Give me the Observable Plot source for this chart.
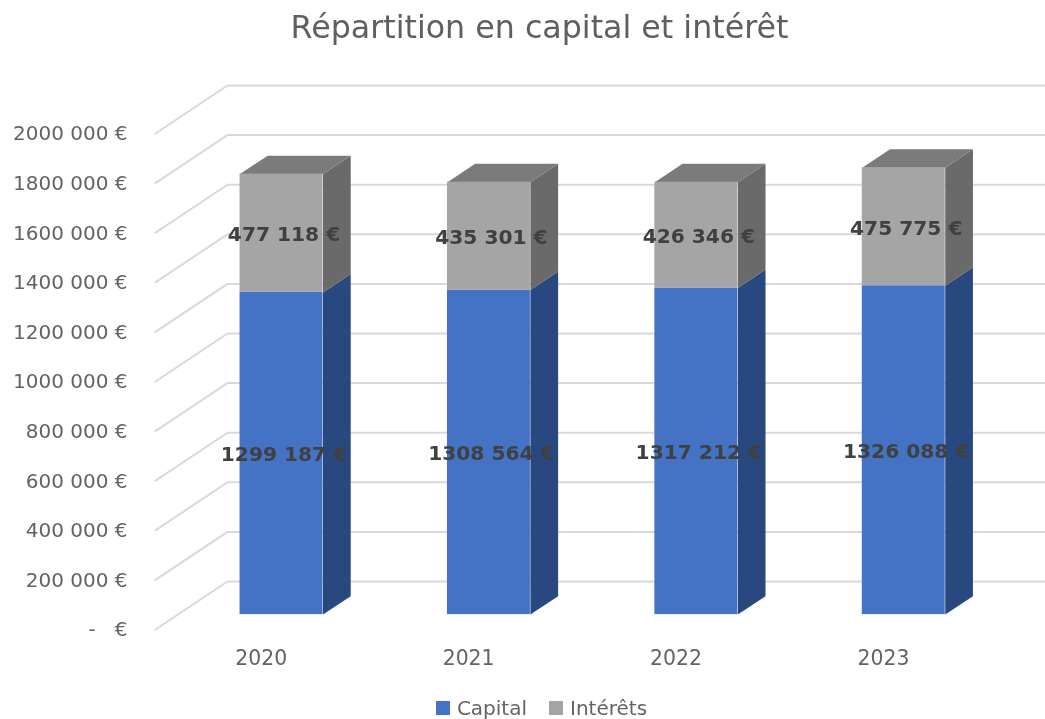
<!DOCTYPE html>
<html lang="fr">
<head>
<meta charset="utf-8">
<script src="https://cdn.jsdelivr.net/npm/d3@7"></script>
<script src="https://cdn.jsdelivr.net/npm/@observablehq/plot@0.6"></script>
<style>
  html, body { margin: 0; padding: 0; background: #fff; width: 1045px; height: 719px; overflow: hidden; }
  body { font-family: "DejaVu Sans", sans-serif; }
  #title { height: 55px; box-sizing: border-box; padding: 7px 0 0 34px; text-align: center;
           font-size: 31.7px; line-height: 40px; color: #5f5f5f; white-space: nowrap; filter: blur(0.4px); }
  #chart svg { display: block; filter: blur(0.4px); }
  #legend { padding: 1px 0 0 58px; display: flex; justify-content: center; filter: blur(0.4px); }
  #legend svg { margin-right: 7px !important; }
</style>
</head>
<body>
<div id="title">Répartition en capital et intérêt</div>
<div id="chart"></div>
<div id="legend"></div>
<script>
const years = ["2020", "2021", "2022", "2023"];
const capital = [1299187, 1308564, 1317212, 1326088];
const interets = [477118, 435301, 426346, 475775];
const capitalLabels = ["1299 187 €", "1308 564 €", "1317 212 €", "1326 088 €"];
const interetsLabels = ["477 118 €", "435 301 €", "426 346 €", "475 775 €"];
const seriesNames = ["Capital", "Intérêts"];
const seriesColors = ["#4472C4", "#A5A5A5"];
const yTicks = [0, 200000, 400000, 600000, 800000, 1000000, 1200000, 1400000, 1600000, 1800000, 2000000];
const yTickLabels = ["-   €", "200 000 €", "400 000 €", "600 000 €", "800 000 €", "1000 000 €", "1200 000 €", "1400 000 €", "1600 000 €", "1800 000 €", "2000 000 €"];

// Oblique projection: depth 0 is the front of the floor, depth 1 the back wall.
const xMin = -0.5, xMax = 3.791;
const depthX = 0.347, depthY = 193500;
const barFront = 0.31, barBack = 0.695, halfWidth = 0.2;
const grid = "#D9D9D9";
const sideColors = ["#2A4880", "#6A6A6A"];
const topColor = "#7B7B7B";
const labelColor = "#404040";
const tickColor = "#636363";

const px = (x, d) => x + d * depthX;
const py = (v, d) => v + d * depthY;

const gridRows = yTicks.flatMap(v => [
  {v, x: xMin, y: v},
  {v, x: xMin + depthX, y: py(v, 1)},
  {v, x: xMax, y: py(v, 1)}
]);

const segments = years.flatMap((year, i) => [
  {i, year, s: 0, start: 0, end: capital[i]},
  {i, year, s: 1, start: capital[i], end: capital[i] + interets[i]}
]);

const sidePoly = seg => {
  const r = seg.i + halfWidth;
  return [
    {id: seg.i, x: px(r, barFront), y: py(seg.start, barFront)},
    {id: seg.i, x: px(r, barBack), y: py(seg.start, barBack)},
    {id: seg.i, x: px(r, barBack), y: py(seg.end, barBack)},
    {id: seg.i, x: px(r, barFront), y: py(seg.end, barFront)}
  ];
};
const topPoly = seg => {
  const l = seg.i - halfWidth, r = seg.i + halfWidth;
  return [
    {id: seg.i, x: px(l, barFront), y: py(seg.end, barFront)},
    {id: seg.i, x: px(l, barBack), y: py(seg.end, barBack)},
    {id: seg.i, x: px(r, barBack), y: py(seg.end, barBack)},
    {id: seg.i, x: px(r, barFront), y: py(seg.end, barFront)}
  ];
};
const sides = s => segments.filter(d => d.s === s).flatMap(sidePoly);
const tops = segments.filter(d => d.s === 1).flatMap(topPoly);

const labelRows = segments.map(d => ({
  ...d,
  label: (d.s === 0 ? capitalLabels : interetsLabels)[d.i]
}));

const font = '"DejaVu Sans", sans-serif';

const plot = Plot.plot({
  width: 1045,
  height: 640,
  marginLeft: 155,
  marginRight: 0,
  marginTop: 78,
  marginBottom: 66,
  style: {background: "#fff", fontFamily: font, overflow: "visible"},
  x: {domain: [xMin, xMax], axis: null},
  y: {domain: [0, 2000000], axis: null},
  color: {domain: seriesNames, range: seriesColors},
  marks: [
    Plot.line(gridRows, {x: "x", y: "y", z: "v", stroke: grid, strokeWidth: 2, curve: "linear"}),
    Plot.axisY(yTicks, {
      anchor: "left", tickSize: 0, tickPadding: 28, label: null, fontSize: 20,
      fill: tickColor, wordSpacing: "-4px", dy: 0.5,
      tickFormat: v => yTickLabels[yTicks.indexOf(v)]
    }),
    Plot.axisX(d3.range(years.length), {
      anchor: "bottom", tickSize: 0, tickPadding: 21, label: null, fontSize: 20.4,
      fill: tickColor, dx: 2,
      tickFormat: i => years[i]
    }),
    Plot.line(sides(0), {x: "x", y: "y", z: "id", fill: sideColors[0], stroke: "none", curve: "linear-closed"}),
    Plot.line(sides(1), {x: "x", y: "y", z: "id", fill: sideColors[1], stroke: "none", curve: "linear-closed"}),
    Plot.line(tops, {x: "x", y: "y", z: "id", fill: topColor, stroke: "none", curve: "linear-closed"}),
    Plot.rect(segments, {
      x1: d => px(d.i - halfWidth, barFront),
      x2: d => px(d.i + halfWidth, barFront),
      y1: d => py(d.start, barFront),
      y2: d => py(d.end, barFront),
      fill: d => seriesNames[d.s]
    }),
    Plot.text(labelRows, {
      x: d => px(d.i, barFront),
      y: d => py((d.start + d.end) / 2, barFront),
      text: "label",
      dx: 2.5, dy: 1.5,
      fontSize: 20.2, fontWeight: "bold", fill: labelColor, wordSpacing: "-4px"
    })
  ]
});
document.getElementById("chart").append(plot);

const legend = Plot.legend({
  color: {domain: seriesNames, range: seriesColors},
  swatchSize: 14,
  style: {fontFamily: font, fontSize: "20px", color: "#636363", marginLeft: 0, minHeight: "23px", justifyContent: "center", columnGap: "2px"}
});
document.getElementById("legend").append(legend);
</script>
</body>
</html>
